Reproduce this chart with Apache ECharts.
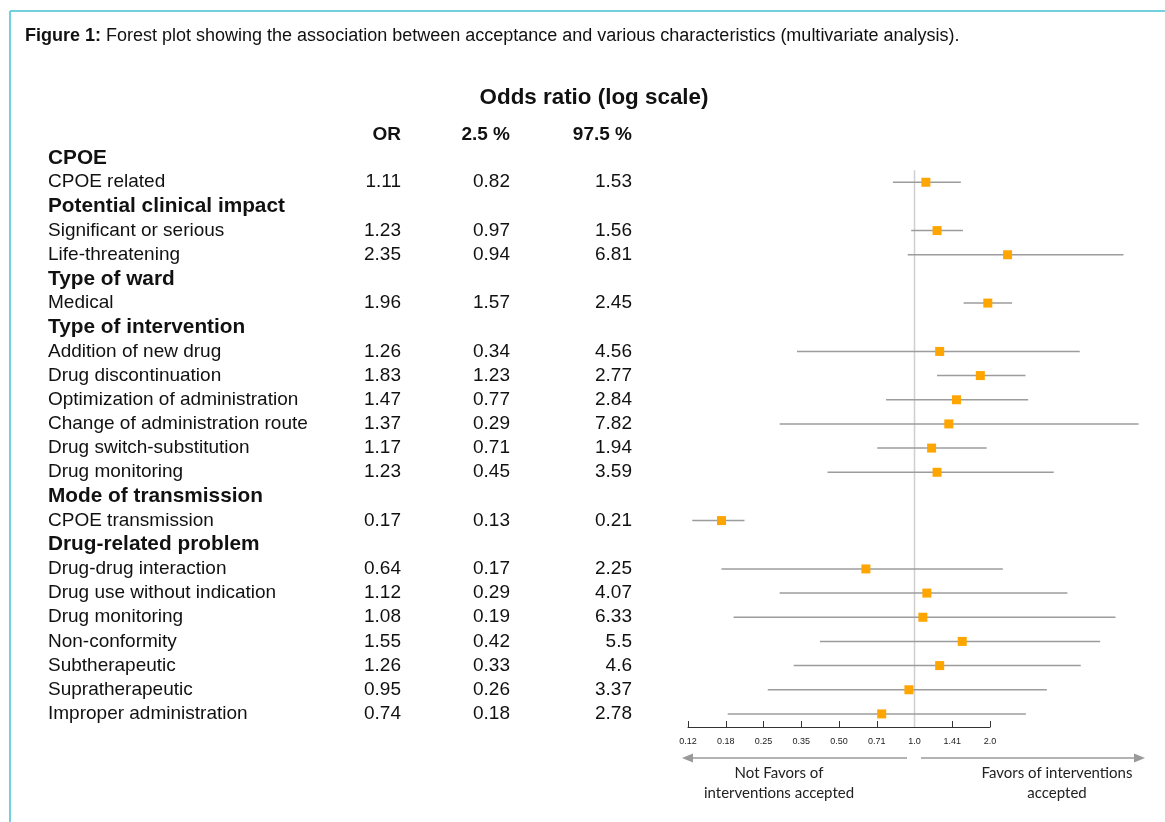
<!DOCTYPE html>
<html><head><meta charset="utf-8">
<script src="https://cdn.jsdelivr.net/npm/echarts@6/dist/echarts.min.js"></script>
<style>html,body{margin:0;padding:0;background:#fff}#main{width:1165px;height:822px}</style>
</head><body><div id="main"></div>
<script>
// ---- data ----
const rowLabels = ['CPOE','CPOE related','Potential clinical impact','Significant or serious','Life-threatening','Type of ward','Medical','Type of intervention','Addition of new drug','Drug discontinuation','Optimization of administration','Change of administration route','Drug switch-substitution','Drug monitoring','Mode of transmission','CPOE transmission','Drug-related problem','Drug-drug interaction','Drug use without indication','Drug monitoring','Non-conformity','Subtherapeutic','Supratherapeutic','Improper administration'];
const oddsRatio = [null,1.11,null,1.23,2.35,null,1.96,null,1.26,1.83,1.47,1.37,1.17,1.23,null,0.17,null,0.64,1.12,1.08,1.55,1.26,0.95,0.74];
const ciLower   = [null,0.82,null,0.97,0.94,null,1.57,null,0.34,1.23,0.77,0.29,0.71,0.45,null,0.13,null,0.17,0.29,0.19,0.42,0.33,0.26,0.18];
const ciUpper   = [null,1.53,null,1.56,6.81,null,2.45,null,4.56,2.77,2.84,7.82,1.94,3.59,null,0.21,null,2.25,4.07,6.33,5.5,4.6,3.37,2.78];
const tickLabels = ['0.12','0.18','0.25','0.35','0.50','0.71','1.0','1.41','2.0'];
const columnHeaders = ['OR','2.5 %','97.5 %'];
const referenceOR = 1;
const axisMinOR = 0.125, axisMaxOR = 8, visibleMaxOR = 2;

// ---- build ----
const lg = v => Math.log2(v);
const whiskerData = [], pointData = [];
rowLabels.forEach((r, i) => {
  if (oddsRatio[i] == null) return;
  whiskerData.push([lg(ciLower[i]), lg(ciUpper[i]), i]);
  pointData.push([lg(oddsRatio[i]), i]);
});
const FONT = '"Liberation Sans", Arial, sans-serif';
const chart = echarts.init(document.getElementById('main'), null, {renderer: 'canvas'});
const gridTop = 146, gridH = 580, gridLeft = 688, pxPerUnit = 75.5;
const main = {left: gridLeft, top: gridTop, width: pxPerUnit * (lg(axisMaxOR) - lg(axisMinOR)), height: gridH};
const axisGrid = {left: gridLeft, top: gridTop, width: pxPerUnit * (lg(visibleMaxOR) - lg(axisMinOR)), height: gridH + 1};

const arrowColor = '#9a9a9a';
chart.setOption({
  animation: false,
  textStyle: {fontFamily: FONT},
  grid: [main, axisGrid],
  xAxis: [
    {gridIndex: 0, type: 'value', min: lg(axisMinOR), max: lg(axisMaxOR), show: false},
    {gridIndex: 1, type: 'value', min: lg(axisMinOR), max: lg(visibleMaxOR), interval: 0.5,
     axisLine: {lineStyle: {color: '#333', width: 1}},
     axisTick: {inside: true, length: 6, lineStyle: {color: '#333'}},
     splitLine: {show: false},
     axisLabel: {fontSize: 9, color: '#222', margin: 10, fontFamily: FONT,
       formatter: v => tickLabels[Math.round((v - lg(axisMinOR)) / 0.5)] || ''}}
  ],
  yAxis: [
    {gridIndex: 0, type: 'category', inverse: true, data: rowLabels,
     axisLine: {show: false}, axisTick: {show: false}, splitLine: {show: false},
     axisLabel: {interval: 0, align: 'left', margin: gridLeft - 48, color: '#111', fontFamily: FONT,
       formatter: (v, i) => {
         if (oddsRatio[i] == null) return '{h|' + rowLabels[i] + '}';
         return '{n|' + rowLabels[i] + '}{o|' + String(oddsRatio[i]) + '}{l|' + String(ciLower[i]) + '}{u|' + String(ciUpper[i]) + '}';
       },
       rich: {
         h: {fontSize: 20.8, fontWeight: 'bold', color: '#111', fontFamily: FONT},
         n: {fontSize: 19, color: '#111', width: 290, fontFamily: FONT},
         o: {fontSize: 19, color: '#111', width: 63, align: 'right', fontFamily: FONT},
         l: {fontSize: 19, color: '#111', width: 109, align: 'right', fontFamily: FONT},
         u: {fontSize: 19, color: '#111', width: 122, align: 'right', fontFamily: FONT}
       }}},
    {gridIndex: 1, type: 'value', show: false, min: 0, max: 1}
  ],
  series: [
    {type: 'custom', xAxisIndex: 0, yAxisIndex: 0, data: [[lg(referenceOR), 1]], z: 1, clip: false,
     renderItem: (params, api) => {
       const c = api.coord([api.value(0), api.value(1)]);
       const s = api.size([0, 1]);
       const cs = params.coordSys;
       return {type: 'line', shape: {x1: c[0], y1: c[1] - s[1] / 2, x2: c[0], y2: cs.y + cs.height + 1},
               style: {stroke: '#cfcfcf', lineWidth: 1.5}};
     }},
    {type: 'custom', xAxisIndex: 0, yAxisIndex: 0, data: whiskerData, z: 2, clip: false,
     encode: {x: [0, 1], y: 2},
     renderItem: (params, api) => {
       const a = api.coord([api.value(0), api.value(2)]);
       const b = api.coord([api.value(1), api.value(2)]);
       return {type: 'line', shape: {x1: a[0], y1: a[1], x2: b[0], y2: b[1]},
               style: {stroke: '#9c9c9c', lineWidth: 1.5}};
     }},
    {type: 'scatter', xAxisIndex: 0, yAxisIndex: 0, data: pointData, symbol: 'rect', symbolSize: 9, z: 3,
     itemStyle: {color: '#FFA500', opacity: 1}}
  ],
  graphic: [
    {type: 'line', shape: {x1: 10, y1: 11, x2: 1165, y2: 11}, style: {stroke: '#72cfdd', lineWidth: 2}},
    {type: 'line', shape: {x1: 10, y1: 11, x2: 10, y2: 822}, style: {stroke: '#72cfdd', lineWidth: 2}},
    {type: 'text', x: 25, y: 36, style: {text: '{b|Figure 1:} Forest plot showing the association between acceptance and various characteristics (multivariate analysis).',
      fontSize: 18, fontFamily: FONT, fill: '#111', verticalAlign: 'middle',
      rich: {b: {fontSize: 18, fontWeight: 'bold', fontFamily: FONT, fill: '#111'}}}},
    {type: 'text', x: 594, y: 98, style: {text: 'Odds ratio (log scale)', fontSize: 22.4, fontWeight: 'bold', fontFamily: FONT, fill: '#111', align: 'center', verticalAlign: 'middle'}},
    {type: 'text', x: 401, y: 135, style: {text: columnHeaders[0], fontSize: 19, fontWeight: 'bold', fontFamily: FONT, fill: '#111', align: 'right', verticalAlign: 'middle'}},
    {type: 'text', x: 510, y: 135, style: {text: columnHeaders[1], fontSize: 19, fontWeight: 'bold', fontFamily: FONT, fill: '#111', align: 'right', verticalAlign: 'middle'}},
    {type: 'text', x: 632, y: 135, style: {text: columnHeaders[2], fontSize: 19, fontWeight: 'bold', fontFamily: FONT, fill: '#111', align: 'right', verticalAlign: 'middle'}},
    {type: 'line', shape: {x1: 690, y1: 758, x2: 907, y2: 758}, style: {stroke: arrowColor, lineWidth: 1.5}},
    {type: 'polygon', shape: {points: [[682, 758], [693, 753.5], [693, 762.5]]}, style: {fill: arrowColor}},
    {type: 'line', shape: {x1: 921, y1: 758, x2: 1136, y2: 758}, style: {stroke: arrowColor, lineWidth: 1.5}},
    {type: 'polygon', shape: {points: [[1145, 758], [1134, 753.5], [1134, 762.5]]}, style: {fill: arrowColor}},
    {type: 'text', x: 779, y: 773, style: {text: 'Not Favors of', fontSize: 15, fontFamily: 'Lato, sans-serif', fill: '#222', align: 'center', verticalAlign: 'middle'}},
    {type: 'text', x: 779, y: 793, style: {text: 'interventions accepted', fontSize: 15, fontFamily: 'Lato, sans-serif', fill: '#222', align: 'center', verticalAlign: 'middle'}},
    {type: 'text', x: 1057, y: 773, style: {text: 'Favors of interventions', fontSize: 15, fontFamily: 'Lato, sans-serif', fill: '#222', align: 'center', verticalAlign: 'middle'}},
    {type: 'text', x: 1057, y: 793, style: {text: 'accepted', fontSize: 15, fontFamily: 'Lato, sans-serif', fill: '#222', align: 'center', verticalAlign: 'middle'}}
  ]
});
</script></body></html>
